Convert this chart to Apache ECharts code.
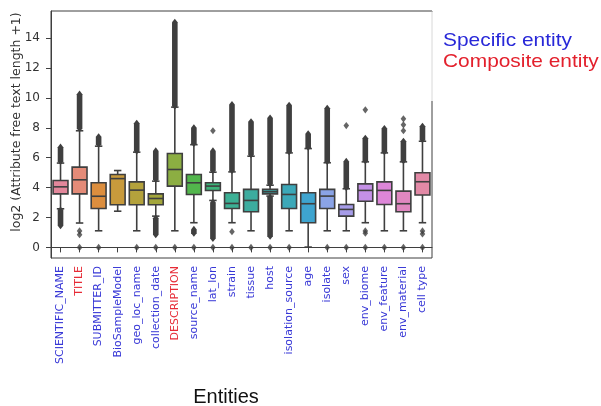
<!DOCTYPE html>
<html>
<head>
<meta charset="utf-8">
<script src="https://cdn.jsdelivr.net/npm/echarts@6/dist/echarts.min.js"></script>
<style>
    html, body { margin: 0; padding: 0; background: #fff; }
    #chart { width: 601px; height: 406px; }
</style>
</head>
<body>
<div id="chart"></div>
<script>
var categories = ['SCIENTIFIC_NAME', 'TITLE', 'SUBMITTER_ID', 'BioSampleModel', 'geo_loc_name',
    'collection_date', 'DESCRIPTION', 'source_name', 'lat_lon', 'strain', 'tissue', 'host',
    'isolation_source', 'age', 'isolate', 'sex', 'env_biome', 'env_feature', 'env_material', 'cell type'];
var compositeEntities = ['TITLE', 'DESCRIPTION'];

var whiskerLow  = [2.58, 1.63, 1.11, 2.42, 1.11, 2.09, 1.11, 1.65, 3.14, 1.65, 1.11, 3.43, 1.11, 0.02, 1.11, 1.11, 1.65, 1.11, 1.11, 1.65];
var q1          = [3.58, 3.58, 2.60, 2.85, 2.85, 2.85, 4.10, 3.54, 3.80, 2.60, 2.38, 3.58, 2.60, 1.65, 2.60, 2.09, 3.09, 2.87, 2.38, 3.50];
var median      = [4.05, 4.52, 3.42, 4.60, 3.83, 3.27, 5.21, 4.32, 4.10, 2.94, 3.14, 3.72, 3.54, 2.92, 3.43, 2.54, 3.81, 3.81, 2.92, 4.39];
var q3          = [4.47, 5.37, 4.32, 4.87, 4.38, 3.58, 6.28, 4.87, 4.32, 3.65, 3.88, 3.88, 4.21, 3.65, 3.88, 2.87, 4.25, 4.38, 3.76, 4.99];
var whiskerHigh = [5.64, 7.80, 6.77, 5.14, 6.37, 4.43, 9.38, 6.87, 5.03, 5.05, 6.10, 4.16, 6.32, 6.61, 5.66, 3.92, 5.72, 6.32, 5.72, 7.10];

// dense runs of outliers: [category index, lowest, highest]
var outlierRuns = [
    [0, 5.75, 6.70], [0, 1.45, 2.50],
    [1, 7.95, 10.25],
    [2, 6.90, 7.40],
    [4, 6.45, 8.30],
    [5, 4.55, 6.45], [5, 0.85, 1.95],
    [6, 9.45, 15.05],
    [7, 6.95, 8.00], [7, 0.95, 1.20],
    [8, 5.15, 6.45], [8, 0.60, 3.00],
    [9, 5.15, 9.55],
    [10, 6.20, 8.40],
    [11, 4.25, 8.65], [11, 0.75, 3.35],
    [12, 6.40, 9.50],
    [13, 6.70, 7.60],
    [14, 5.75, 9.30],
    [15, 4.00, 5.75],
    [16, 5.80, 7.30],
    [17, 6.40, 7.95],
    [18, 5.80, 7.10],
    [19, 7.20, 8.10]
];
// single outliers: [category index, value]
var outlierPoints = [
    [1, 1.10], [1, 0.85], [1, 0],
    [2, 0], [4, 0], [5, 0], [6, 0], [7, 0], [8, 7.80], [8, 0],
    [9, 1.05], [9, 0], [10, 0], [11, 0], [12, 0], [14, 0],
    [15, 8.15], [15, 0],
    [16, 9.20], [16, 1.10], [16, 0.95], [16, 0],
    [17, 0], [18, 8.60], [18, 8.20], [18, 7.80], [18, 0],
    [19, 1.10], [19, 0.90], [19, 0]
];

var yTicks = [0, 2, 4, 6, 8, 10, 12, 14];

var boxColors = ['#e3879b', '#e48b78', '#dc8e3e', '#c89a3c', '#b4a23c', '#a3a63c', '#8cae42',
    '#52b64c', '#3db47a', '#3cb095', '#3cac9f', '#3caaaa', '#3ca8b8', '#3ea4cf', '#8aa3e6',
    '#a69ce8', '#c490e6', '#dd86d8', '#e087c0', '#e289a6'];

var lineGray = '#3f3f3f';
var blue = '#3737d6';
var red = '#e62b36';

var boxData = categories.map(function (name, i) {
    return [i, whiskerLow[i], q1[i], median[i], q3[i], whiskerHigh[i]];
});

var renderBox = function (params, api) {
    var i = api.value(0);
    var band = api.size([1, 0])[0];
    var bw = band * 0.78;
    var cw = bw / 2;
    var pLow = api.coord([i, api.value(1)]);
    var pQ1 = api.coord([i, api.value(2)]);
    var pMed = api.coord([i, api.value(3)]);
    var pQ3 = api.coord([i, api.value(4)]);
    var pHigh = api.coord([i, api.value(5)]);
    var x = pQ1[0];
    var lineStyle = { stroke: lineGray, lineWidth: 1.6 };
    return {
        type: 'group',
        children: [
            { type: 'line', shape: { x1: x, y1: pQ1[1], x2: x, y2: pLow[1] }, style: lineStyle },
            { type: 'line', shape: { x1: x, y1: pQ3[1], x2: x, y2: pHigh[1] }, style: lineStyle },
            { type: 'line', shape: { x1: x - cw / 2, y1: pLow[1], x2: x + cw / 2, y2: pLow[1] }, style: lineStyle },
            { type: 'line', shape: { x1: x - cw / 2, y1: pHigh[1], x2: x + cw / 2, y2: pHigh[1] }, style: lineStyle },
            {
                type: 'rect',
                shape: { x: x - bw / 2, y: pQ3[1], width: bw, height: pQ1[1] - pQ3[1] },
                style: { fill: boxColors[i], stroke: lineGray, lineWidth: 1.6 }
            },
            { type: 'line', shape: { x1: x - bw / 2, y1: pMed[1], x2: x + bw / 2, y2: pMed[1] }, style: lineStyle }
        ]
    };
};

var renderRun = function (params, api) {
    var i = api.value(0);
    var lo = api.coord([i, api.value(1)]);
    var hi = api.coord([i, api.value(2)]);
    var x = lo[0];
    var w = 2.8;
    var h = 3.6;
    return {
        type: 'polygon',
        shape: {
            points: [
                [x, hi[1] - h], [x + w, hi[1]], [x + w, lo[1]],
                [x, lo[1] + h], [x - w, lo[1]], [x - w, hi[1]]
            ]
        },
        style: { fill: lineGray }
    };
};

var chart = echarts.init(document.getElementById('chart'), null, { renderer: 'canvas' });
var option = {
    animation: false,
    textStyle: { fontFamily: 'DejaVu Sans' },
    grid: {
        left: 51,
        top: 11,
        width: 381,
        height: 247,
        show: true,
        borderColor: lineGray,
        borderWidth: 1,
        backgroundColor: 'transparent'
    },
    xAxis: {
        type: 'category',
        data: categories,
        boundaryGap: true,
        axisLine: { show: true, lineStyle: { color: lineGray, width: 1 } },
        axisTick: { show: true, alignWithLabel: true, length: 5, lineStyle: { color: lineGray } },
        axisLabel: {
            interval: 0,
            rotate: 90,
            margin: 8,
            fontSize: 11,
            fontFamily: 'DejaVu Sans',
            color: function (value) {
                return compositeEntities.indexOf(value) >= 0 ? red : blue;
            }
        },
        splitLine: { show: false }
    },
    yAxis: {
        type: 'value',
        min: -0.71,
        max: 15.81,
        axisLine: { show: true, lineStyle: { color: lineGray, width: 1 } },
        axisTick: { show: true, length: 5, customValues: yTicks, lineStyle: { color: lineGray } },
        axisLabel: {
            customValues: yTicks,
            margin: 11,
            fontSize: 12,
            fontFamily: 'DejaVu Sans',
            color: '#333'
        },
        splitLine: { show: false }
    },
    series: [{
        type: 'custom',
        renderItem: renderRun,
        data: outlierRuns,
        z: 2
    }, {
        type: 'scatter',
        data: outlierPoints,
        symbol: 'diamond',
        symbolSize: [5.6, 7.2],
        itemStyle: { color: lineGray },
        z: 2
    }, {
        type: 'custom',
        renderItem: renderBox,
        data: boxData,
        z: 3
    }],
    graphic: [{
        type: 'rect',
        shape: { x: 429, y: 12, width: 6, height: 89 },
        style: { fill: '#fff' },
        z: 100
    }, {
        type: 'line',
        shape: { x1: 432, y1: 11, x2: 432, y2: 101 },
        style: { stroke: '#d8d8d8', lineWidth: 1 },
        z: 101
    }, {
        type: 'text',
        x: 17,
        y: 122,
        rotation: Math.PI / 2,
        style: {
            text: 'log2 (Attribute free text length +1)',
            fontSize: 12.5,
            fontFamily: 'DejaVu Sans',
            fill: '#333',
            align: 'center',
            verticalAlign: 'middle'
        }
    }, {
        type: 'text',
        x: 443,
        y: 31,
        scaleX: 1.1,
        style: {
            text: 'Specific entity',
            fontSize: 19,
            fontFamily: 'Liberation Sans',
            fill: '#2828d8',
            align: 'left',
            verticalAlign: 'top'
        }
    }, {
        type: 'text',
        x: 443,
        y: 52,
        scaleX: 1.1,
        style: {
            text: 'Composite entity',
            fontSize: 19,
            fontFamily: 'Liberation Sans',
            fill: '#e3202c',
            align: 'left',
            verticalAlign: 'top'
        }
    }, {
        type: 'text',
        x: 226,
        y: 397,
        style: {
            text: 'Entities',
            fontSize: 20,
            fontFamily: 'Liberation Sans',
            fill: '#111',
            align: 'center',
            verticalAlign: 'middle'
        }
    }]
};
chart.setOption(option);
</script>
</body>
</html>
